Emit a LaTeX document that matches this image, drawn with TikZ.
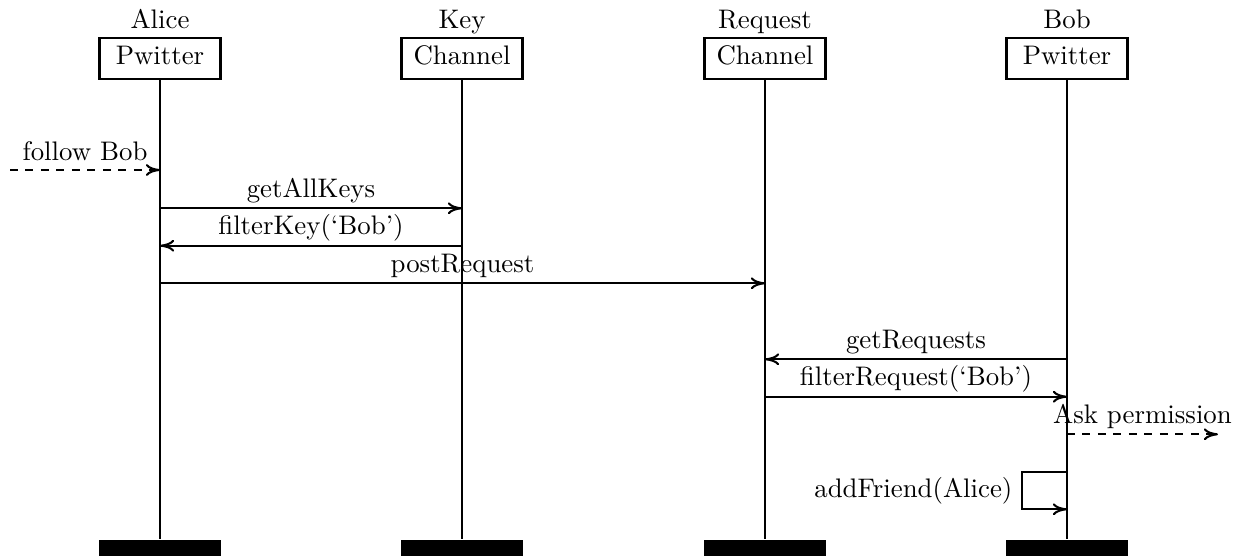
\documentclass[tikz,border=0pt]{standalone}
\usetikzlibrary{arrows.meta}
\begin{document}
\begin{tikzpicture}[x=0.3876pt, y=-0.3876pt, line width=0.8pt,
  every node/.style={font=\fontsize{10.4pt}{12.5pt}\selectfont},
  lifebox/.style={draw, minimum width=46.9pt, minimum height=16.1pt,
    inner sep=0pt, text height=7.1pt, text depth=2.5pt},
  endbar/.style={fill=black, draw=none, minimum width=47.3pt,
    minimum height=6.2pt, inner sep=0pt},
  toplabel/.style={anchor=base},
  msg/.style={-{To[length=5.5pt, width=4.6pt]}},
  ext/.style={msg, dashed},
  lbl/.style={midway, anchor=base, yshift=4.3pt}]
  \useasboundingbox (0,0) rectangle (1247,557);

  % participants
  \node[toplabel] (tAlice) at (160,28) {Alice};
  \node[toplabel] (tKey)   at (462,28) {Key};
  \node[toplabel] (tReq)   at (765,28) {Request};
  \node[toplabel] (tBob)   at (1067,28) {Bob};

  \node[lifebox] (alice) at (160,58.5) {Pwitter};
  \node[lifebox] (key)   at (462,58.5) {Channel};
  \node[lifebox] (req)   at (765,58.5) {Channel};
  \node[lifebox] (bob)   at (1067,58.5) {Pwitter};

  \node[endbar] (aliceEnd) at (160,548) {};
  \node[endbar] (keyEnd)   at (462,548) {};
  \node[endbar] (reqEnd)   at (765,548) {};
  \node[endbar] (bobEnd)   at (1067,548) {};

  % lifelines
  \draw (alice.south) -- (aliceEnd.north);
  \draw (key.south)   -- (keyEnd.north);
  \draw (req.south)   -- (reqEnd.north);
  \draw (bob.south)   -- (bobEnd.north);

  % message end points
  \coordinate (in0)  at (10,170);
  \coordinate (a0)   at (160,170);
  \coordinate (a1)   at (160,208.3);
  \coordinate (k1)   at (462,208.3);
  \coordinate (a2)   at (160,245.7);
  \coordinate (k2)   at (462,245.7);
  \coordinate (a3)   at (160,283.3);
  \coordinate (r3)   at (765,283.3);
  \coordinate (r4)   at (765,359.3);
  \coordinate (b4)   at (1067,359.3);
  \coordinate (r5)   at (765,396.7);
  \coordinate (b5)   at (1067,396.7);
  \coordinate (b6)   at (1067,434.3);
  \coordinate (out6) at (1218,434.3);
  \coordinate (b7)   at (1067,471.7);
  \coordinate (b8)   at (1067,509.3);
  \coordinate (loopL) at (1022,490.5);

  % messages
  \draw[ext] (in0) -- node[lbl, yshift=-0.8pt] {follow Bob} (a0);
  \draw[msg] (a1) -- node[lbl] {getAllKeys} (k1);
  \draw[msg] (k2) -- node[lbl] {filterKey(`Bob')} (a2);
  \draw[msg] (a3) -- node[lbl] {postRequest} (r3);
  \draw[msg] (b4) -- node[lbl] {getRequests} (r4);
  \draw[msg] (r5) -- node[lbl] {filterRequest(`Bob')} (b5);
  \draw[ext] (b6) -- node[lbl] {Ask permission} (out6);

  % self call
  \draw[msg] (b7) -| (loopL) |- (b8);
  \node[anchor=east] (selfLbl) at (loopL) {addFriend(Alice)};
\end{tikzpicture}
\end{document}
